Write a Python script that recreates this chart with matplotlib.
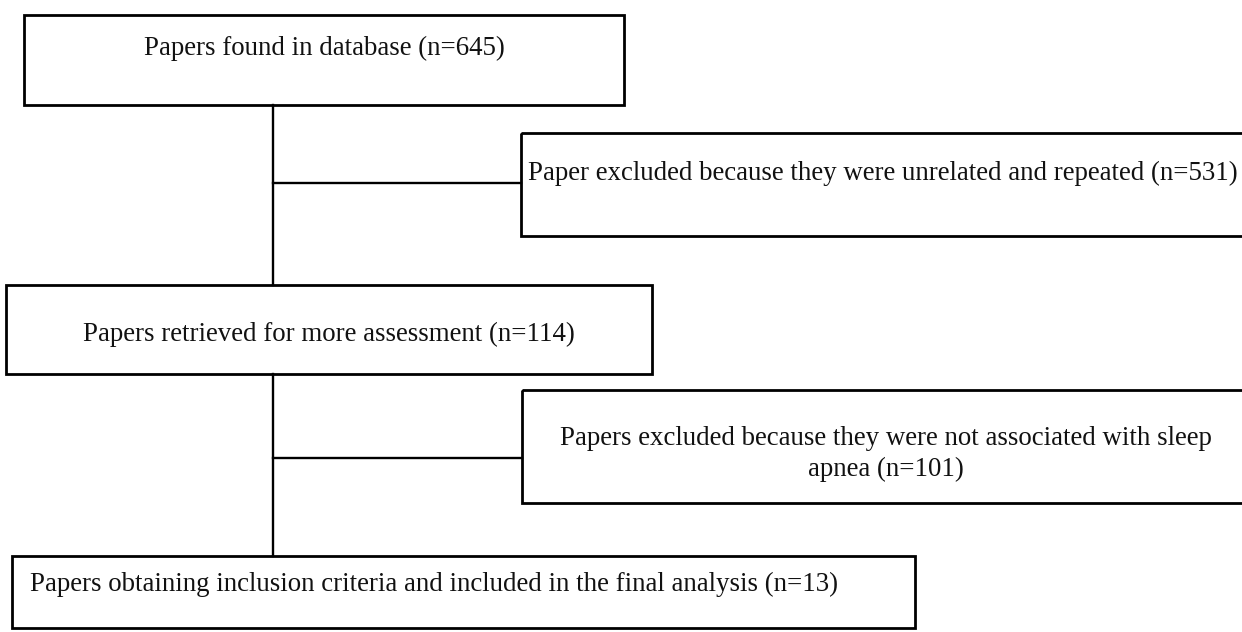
import matplotlib
matplotlib.use("Agg")
import matplotlib.pyplot as plt
from matplotlib.patches import Rectangle

# ---- content ----
stage_labels = [
    "Papers found in database",
    "Papers retrieved for more assessment",
    "Papers obtaining inclusion criteria and included in the final analysis",
]
stage_counts = [645, 114, 13]
exclusion_labels = [
    "Paper excluded because they were unrelated and repeated",
    "Papers excluded because they were not associated with sleep\napnea",
]
exclusion_counts = [531, 101]

# ---- layout (pixels, y downward) ----
W, H = 1242, 632
stage_boxes = [(24, 15, 624, 105), (6, 285, 652, 374), (12, 556, 915, 628)]
stage_text = [(324, 55, "center"), (329, 341, "center"), (30, 591, "left")]
excl_boxes = [(521, 133, 1250, 236), (522, 390, 1250, 503)]
excl_text = [(883, 180), (886, 445)]
line_step = 31
spine_x = 273
branch_y = [183, 458]

FONT = "Liberation Serif"
FS = 19.4
BOX_LW = 2.0
LINE_LW = 1.7

fig = plt.figure(figsize=(W / 100, H / 100), dpi=100)
ax = fig.add_axes([0, 0, 1, 1])
ax.set_xlim(0, W)
ax.set_ylim(H, 0)
ax.axis("off")

def box(b):
    x0, y0, x1, y1 = b
    ax.add_patch(Rectangle((x0, y0), x1 - x0, y1 - y0, fill=False,
                           edgecolor="black", linewidth=BOX_LW))

def label(x, y, s, ha):
    for i, line in enumerate(s.split("\n")):
        ax.text(x, y + i * line_step, line, ha=ha, va="baseline",
                fontsize=FS, family=FONT, color="#111111")

for b, (tx, ty, ha), lab, n in zip(stage_boxes, stage_text, stage_labels, stage_counts):
    box(b)
    label(tx, ty, f"{lab} (n={n})", ha)

for b, (tx, ty), lab, n in zip(excl_boxes, excl_text, exclusion_labels, exclusion_counts):
    box(b)
    label(tx, ty, f"{lab} (n={n})", "center")

# spine connectors
ax.plot([spine_x, spine_x], [stage_boxes[0][3], stage_boxes[1][1]], color="black", lw=LINE_LW)
ax.plot([spine_x, spine_x], [stage_boxes[1][3], stage_boxes[2][1]], color="black", lw=LINE_LW)
for by, eb in zip(branch_y, excl_boxes):
    ax.plot([spine_x, eb[0]], [by, by], color="black", lw=LINE_LW)

fig.savefig("out.png", dpi=100)
